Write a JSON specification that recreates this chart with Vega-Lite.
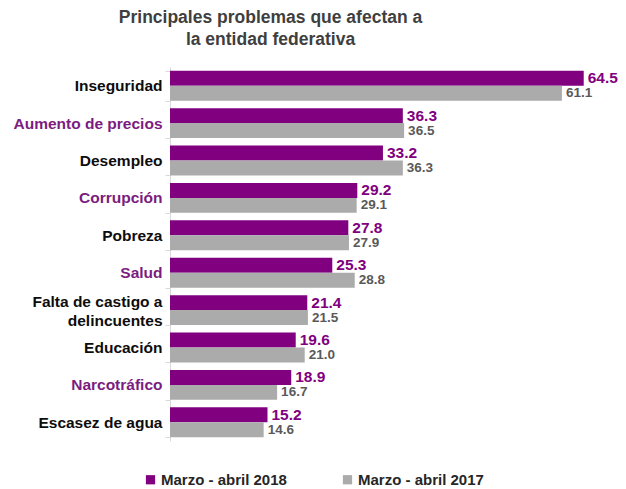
{
  "$schema": "https://vega.github.io/schema/vega-lite/v6.json",
  "autosize": "none",
  "width": 449,
  "height": 374,
  "padding": {"left": 170, "top": 67, "right": 7, "bottom": 48},
  "background": "white",
  "config": {"font": "Liberation Sans", "view": {"stroke": null}},
  "title": {
    "text": ["Principales problemas que afectan a", "la entidad federativa"],
    "font": "Liberation Sans",
    "fontSize": 17.5,
    "fontWeight": "bold",
    "color": "#3F3F3F",
    "anchor": "middle",
    "dx": -124,
    "offset": 12,
    "lineHeight": 22
  },
  "data": {
    "values": [
      {"cat": "Inseguridad", "serie": "Marzo - abril 2018", "value": 64.5},
      {"cat": "Inseguridad", "serie": "Marzo - abril 2017", "value": 61.1},
      {"cat": "Aumento de precios", "serie": "Marzo - abril 2018", "value": 36.3},
      {"cat": "Aumento de precios", "serie": "Marzo - abril 2017", "value": 36.5},
      {"cat": "Desempleo", "serie": "Marzo - abril 2018", "value": 33.2},
      {"cat": "Desempleo", "serie": "Marzo - abril 2017", "value": 36.3},
      {"cat": "Corrupción", "serie": "Marzo - abril 2018", "value": 29.2},
      {"cat": "Corrupción", "serie": "Marzo - abril 2017", "value": 29.1},
      {"cat": "Pobreza", "serie": "Marzo - abril 2018", "value": 27.8},
      {"cat": "Pobreza", "serie": "Marzo - abril 2017", "value": 27.9},
      {"cat": "Salud", "serie": "Marzo - abril 2018", "value": 25.3},
      {"cat": "Salud", "serie": "Marzo - abril 2017", "value": 28.8},
      {"cat": "Falta de castigo a delincuentes", "serie": "Marzo - abril 2018", "value": 21.4},
      {"cat": "Falta de castigo a delincuentes", "serie": "Marzo - abril 2017", "value": 21.5},
      {"cat": "Educación", "serie": "Marzo - abril 2018", "value": 19.6},
      {"cat": "Educación", "serie": "Marzo - abril 2017", "value": 21.0},
      {"cat": "Narcotráfico", "serie": "Marzo - abril 2018", "value": 18.9},
      {"cat": "Narcotráfico", "serie": "Marzo - abril 2017", "value": 16.7},
      {"cat": "Escasez de agua", "serie": "Marzo - abril 2018", "value": 15.2},
      {"cat": "Escasez de agua", "serie": "Marzo - abril 2017", "value": 14.6}
    ]
  },
  "encoding": {
    "y": {
      "field": "cat",
      "type": "nominal",
      "sort": null,
      "scale": {"paddingInner": 0.2, "paddingOuter": 0.1},
      "axis": {
        "title": null,
        "labelFont": "Liberation Sans",
        "labelFontSize": 15.5,
        "labelFontWeight": "bold",
        "labelColor": {
          "condition": {"test": "indexof(['Aumento de precios','Corrupción','Salud','Narcotráfico'], datum.value) >= 0", "value": "#7B1C80"},
          "value": "#0D0D0D"
        },
        "labelOffset": {
          "condition": {"test": "datum.value == 'Falta de castigo a delincuentes'", "value": -9},
          "value": 0
        },
        "labelExpr": "datum.value == 'Falta de castigo a delincuentes' ? ['Falta de castigo a', 'delincuentes'] : datum.value",
        "labelLineHeight": 19,
        "labelPadding": 3,
        "labelLimit": 220,
        "domainColor": "#D9D9D9",
        "tickColor": "#D9D9D9",
        "tickSize": 5,
        "tickBand": "extent"
      }
    },
    "yOffset": {
      "field": "serie",
      "type": "nominal",
      "sort": ["Marzo - abril 2018", "Marzo - abril 2017"],
      "scale": {"paddingInner": 0, "paddingOuter": 0}
    },
    "x": {
      "field": "value",
      "type": "quantitative",
      "scale": {"domain": [0, 70], "nice": false},
      "axis": null
    }
  },
  "layer": [
    {
      "mark": {"type": "bar"},
      "encoding": {
        "color": {
          "field": "serie",
          "type": "nominal",
          "scale": {"domain": ["Marzo - abril 2018", "Marzo - abril 2017"], "range": ["#800080", "#ABABAB"]},
          "legend": {
            "title": null,
            "orient": "none",
            "legendX": -27,
            "legendY": 405,
            "direction": "horizontal",
            "symbolType": "square",
            "symbolSize": 85,
            "symbolStrokeWidth": 0,
            "labelFont": "Liberation Sans",
            "labelFontSize": 15,
            "labelFontWeight": "bold",
            "labelColor": "#262626",
            "labelOffset": 3,
            "columnPadding": 53,
            "labelLimit": 220
          }
        }
      }
    },
    {
      "mark": {"type": "text", "align": "left", "baseline": "middle", "dx": 4, "fontWeight": "bold", "font": "Liberation Sans"},
      "encoding": {
        "text": {"field": "value", "type": "quantitative", "format": ".1f"},
        "color": {
          "condition": {"test": "datum.serie == 'Marzo - abril 2018'", "value": "#800080"},
          "value": "#595959"
        },
        "size": {
          "condition": {"test": "datum.serie == 'Marzo - abril 2018'", "value": 15.5},
          "value": 13.5
        }
      }
    }
  ]
}
